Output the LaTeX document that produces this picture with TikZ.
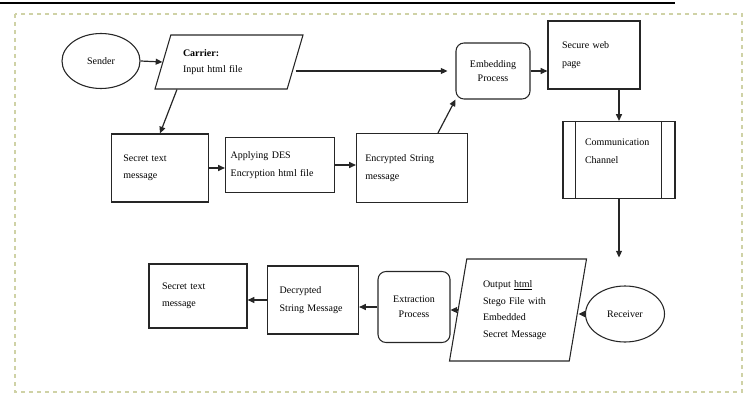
\documentclass[tikz,border=0pt]{standalone}
\usepackage{fontspec}
\setmainfont{Liberation Serif}
\usepackage{tikz}
\usetikzlibrary{shapes.geometric,arrows.meta}
\definecolor{FrameOlive}{HTML}{CFD2A6}
\definecolor{InkGray}{HTML}{262626}

\begin{document}
\begin{tikzpicture}[x=0.75pt,y=-0.75pt,>={Triangle[length=5pt,width=4.5pt]},
  box/.style={draw=InkGray,line width=0.9pt,align=left,inner sep=2pt,
    font=\fontsize{7.5}{13}\selectfont},
  proc/.style={draw=InkGray,line width=0.8pt,rounded corners=6pt,align=center,
    font=\fontsize{7.5}{11}\selectfont},
  oval/.style={draw=InkGray,line width=0.8pt,ellipse,font=\fontsize{7.5}{9}\selectfont},
  slant/.style={draw=InkGray,line width=0.8pt,trapezium,trapezium stretches body=true,
    align=left,inner sep=2pt,font=\fontsize{7.5}{12.5}\selectfont},
  flow/.style={->,line width=0.9pt,color=InkGray}]
  \useasboundingbox (0,0) rectangle (748,395);
  \draw[line width=1.5pt] (0,3)--(675,3);
  \draw[FrameOlive,line width=1pt,dash pattern=on 3pt off 3pt] (15,14) rectangle (742,392);

  \node[oval,minimum width=58.5pt,minimum height=41.25pt] (sender) at (101,61) {Sender};
  \node[slant,trapezium left angle=63,trapezium right angle=117,minimum width=111pt,
    minimum height=40.5pt,text width=69pt] (carrier) at (229,62)
    {\textbf{Carrier:}\\Input html file};
  \node[proc,minimum width=55.5pt,minimum height=42pt] (embed) at (493,71)
    {Embedding\\Process};
  \node[box,minimum width=69pt,minimum height=51pt,text width=48pt] (secure) at (594,55)
    {Secure web\\page};
  \node[box,minimum width=84pt,minimum height=57.75pt,text width=51pt] (comm) at (619,160)
    {Communication\\Channel\\\mbox{}};
  \draw[InkGray,line width=0.9pt] ([xshift=9.75pt]comm.north west)--([xshift=9.75pt]comm.south west);
  \draw[InkGray,line width=0.9pt] ([xshift=-10.5pt]comm.north east)--([xshift=-10.5pt]comm.south east);

  \node[box,minimum width=72.75pt,minimum height=51pt,text width=55pt] (secret) at (160,168)
    {Secret text\\message};
  \node[box,minimum width=81.75pt,minimum height=41.25pt,text width=74pt] (des) at (280,165)
    {Applying DES\\Encryption html file};
  \node[box,minimum width=83.25pt,minimum height=51.75pt,text width=70pt] (cipher) at (412,168)
    {Encrypted String\\message};

  \node[oval,minimum width=59.25pt,minimum height=42pt] (receiver) at (625,314) {Receiver};
  \node[slant,trapezium left angle=75,trapezium right angle=105,minimum width=102.75pt,
    minimum height=76.5pt,text width=52.5pt] (stego) at (518,310)
    {Output \underline{html}\\Stego File with\\Embedded\\Secret Message};
  \node[proc,minimum width=54pt,minimum height=53.25pt] (extract) at (414,307)
    {Extraction\\Process};
  \node[box,minimum width=68.25pt,minimum height=51pt,text width=50pt] (decrypt) at (313,300)
    {Decrypted\\String Message};
  \node[box,minimum width=73.5pt,minimum height=48pt,text width=54pt] (plain) at (198,296)
    {Secret text\\message};

  \draw[flow] (sender.east)--(carrier.west);
  \draw[flow] (carrier.east |- embed.west)--([xshift=-6pt]embed.west);
  \draw[flow] (embed.east)--(embed.east -| secure.west);
  \draw[flow] (comm.north |- secure.south)--(comm.north);
  \draw[flow,shorten >=21pt] (comm.south)--(comm.south |- receiver.north);
  \draw[flow] ([xshift=17pt]carrier.bottom left corner)--(secret.north);
  \draw[flow] (secret.east)--(secret.east -| des.west);
  \draw[flow] (des.east)--(des.east -| cipher.west);
  \draw[flow] ([xshift=19.5pt]cipher.north)--(embed.south west);
  \draw[flow] (receiver.west)--(receiver.west -| stego.east);
  \draw[flow] (stego.west)--(stego.west -| extract.east);
  \draw[flow] (extract.west)--(extract.west -| decrypt.east);
  \draw[flow] (decrypt.west)--(decrypt.west -| plain.east);
\end{tikzpicture}
\end{document}
